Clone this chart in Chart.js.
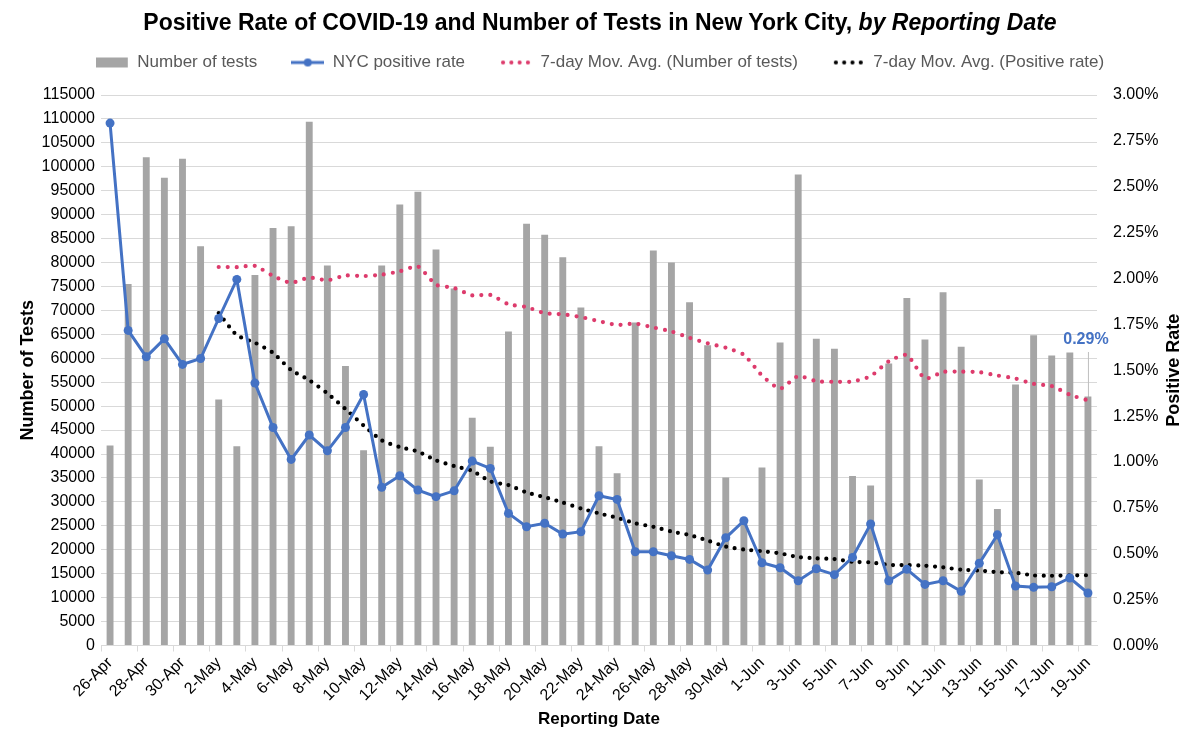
<!DOCTYPE html>
<html>
<head>
<meta charset="utf-8">
<script src="https://cdn.jsdelivr.net/npm/chart.js@4.4.1/dist/chart.umd.min.js"></script>
<style>
  html, body { margin: 0; padding: 0; background: #fff; }
  #wrap { position: relative; width: 1200px; height: 752px; }
  #c { position: absolute; left: 0; top: 0; }
  #title { position: absolute; left: 0; top: 8px; width: 1200px; text-align: center;
           font: bold 23px "Liberation Sans Narrow", "Liberation Sans", sans-serif; color: #000; line-height: 28px; }
</style>
</head>
<body>
<div id="wrap">
  <canvas id="c" width="1200" height="752"></canvas>
  <div id="title">Positive Rate of COVID-19 and Number of Tests in New York City, <i>by Reporting Date</i></div>
</div>
<script>
// ---- Data ----
const dates = [
  '26-Apr','27-Apr','28-Apr','29-Apr','30-Apr',
  '1-May','2-May','3-May','4-May','5-May','6-May','7-May','8-May','9-May','10-May',
  '11-May','12-May','13-May','14-May','15-May','16-May','17-May','18-May','19-May','20-May',
  '21-May','22-May','23-May','24-May','25-May','26-May','27-May','28-May','29-May','30-May','31-May',
  '1-Jun','2-Jun','3-Jun','4-Jun','5-Jun','6-Jun','7-Jun','8-Jun','9-Jun','10-Jun',
  '11-Jun','12-Jun','13-Jun','14-Jun','15-Jun','16-Jun','17-Jun','18-Jun','19-Jun'
];

const numberOfTests = [
  41800, 75500, 102000, 97700, 101700,
  83400, 51400, 41600, 77400, 87200, 87600, 109400, 79400, 58400, 40800,
  79400, 92100, 94800, 82700, 74600, 47600, 41500, 65600, 88100, 85800,
  81100, 70600, 41600, 36000, 67500, 82500, 80000, 71700, 62700, 35100, 25600,
  37200, 63300, 98400, 64100, 62000, 35400, 33400, 58900, 72600, 63900,
  73800, 62400, 34700, 28500, 54500, 64800, 60600, 61200, 52000
];

// percent values
const positiveRate = [
  2.847, 1.717, 1.573, 1.671, 1.532,
  1.564, 1.782, 1.995, 1.430, 1.188, 1.014, 1.147, 1.061, 1.188, 1.368,
  0.862, 0.925, 0.847, 0.811, 0.843, 1.005, 0.965, 0.720, 0.647, 0.666,
  0.607, 0.620, 0.816, 0.796, 0.511, 0.511, 0.489, 0.469, 0.411, 0.587, 0.680,
  0.451, 0.424, 0.353, 0.418, 0.386, 0.480, 0.662, 0.353, 0.415, 0.333,
  0.353, 0.295, 0.448, 0.603, 0.324, 0.317, 0.320, 0.368, 0.286
];

const testsMovAvg = [
  null, null, null, null, null, null,
  79070, 79040, 79310, 77200, 75760, 76860, 76290, 77290, 77170,
  77460, 78160, 79190, 75370, 74690, 73140, 73240, 71270, 70700, 69410,
  69190, 68610, 67760, 66970, 67240, 66440, 65610, 64270, 63140, 62210, 60730,
  56400, 53660, 56290, 55200, 55100, 55140, 56260, 59360, 60690, 55760,
  57140, 57200, 57100, 56400, 55770, 54660, 54190, 52390, 51200
];

const rateMovAvg = [
  null, null, null, null, null, null,
  1.812, 1.691, 1.650, 1.595, 1.501, 1.446, 1.374, 1.289, 1.199,
  1.118, 1.081, 1.057, 1.009, 0.978, 0.952, 0.894, 0.874, 0.834, 0.808,
  0.779, 0.747, 0.720, 0.696, 0.666, 0.647, 0.621, 0.602, 0.572, 0.539, 0.523,
  0.514, 0.502, 0.482, 0.475, 0.471, 0.456, 0.453, 0.439, 0.438, 0.435,
  0.426, 0.413, 0.408, 0.400, 0.396, 0.382, 0.380, 0.382, 0.383
];

const leftTicks = { min: 0, max: 115000, step: 5000 };
const rightTicks = { min: 0, max: 3, step: 0.25 };

// ---- Styling ----
const FONT = '"Liberation Sans", Arial, sans-serif';
const GRAY_BAR = '#a5a5a5';
const BLUE = '#4472c4';
const PINK = '#dd3b6c';
const BLACK = '#000000';

function makeIcon(kind) {
  const c = document.createElement('canvas');
  c.width = 33; c.height = 12;
  const g = c.getContext('2d');
  if (kind === 'bar') {
    g.fillStyle = GRAY_BAR; g.fillRect(0, 1, 32, 10);
  } else if (kind === 'line') {
    g.strokeStyle = BLUE; g.lineWidth = 3;
    g.beginPath(); g.moveTo(0, 6); g.lineTo(33, 6); g.stroke();
    g.fillStyle = BLUE; g.beginPath(); g.arc(16.5, 6, 4, 0, Math.PI * 2); g.fill();
  } else {
    g.fillStyle = kind === 'pink' ? PINK : BLACK;
    for (let k = 0; k < 4; k++) { g.beginPath(); g.arc(4 + k * 8.3, 6, 2.1, 0, Math.PI * 2); g.fill(); }
  }
  return c;
}
const icons = [makeIcon('bar'), makeIcon('line'), makeIcon('pink'), makeIcon('black')];

const LEGEND_HEIGHT = 75;
const legendFix = {
  id: 'legendFix',
  beforeLayout(chart) {
    const lg = chart.legend;
    if (lg && !lg._fixed) {
      const f = lg.fit;
      lg.fit = function () { f.call(this); this.height = LEGEND_HEIGHT; };
      lg._fixed = true;
    }
  }
};

const extras = {
  id: 'extras',
  beforeDatasetsDraw(chart) {
    const { ctx } = chart;
    const last = positiveRate.length - 1;
    const x = chart.scales.x.getPixelForValue(last);
    const yp = chart.scales.y1.getPixelForValue(positiveRate[last]);
    ctx.save();
    ctx.strokeStyle = '#bfbfbf'; ctx.lineWidth = 1;
    ctx.beginPath(); ctx.moveTo(x + 0.5, 352); ctx.lineTo(x + 0.5, yp); ctx.stroke();
    ctx.restore();
  },
  afterDraw(chart) {
    const { ctx, chartArea } = chart;
    const last = positiveRate.length - 1;
    const x = chart.scales.x.getPixelForValue(last);
    ctx.save();
    ctx.font = 'bold 16px ' + FONT;
    ctx.fillStyle = BLUE; ctx.textAlign = 'center'; ctx.textBaseline = 'middle';
    ctx.fillText(positiveRate[last].toFixed(2) + '%', x - 2, 340);
    // right axis title (reads bottom-to-top)
    ctx.translate(1174, (chartArea.top + chartArea.bottom) / 2);
    ctx.rotate(-Math.PI / 2);
    ctx.font = 'bold 18px ' + FONT;
    ctx.fillStyle = '#000';
    ctx.fillText('Positive Rate', 0, 0);
    ctx.restore();
  }
};

new Chart(document.getElementById('c'), {
  data: {
    labels: dates,
    datasets: [
      {
        type: 'bar', label: 'Number of tests', data: numberOfTests, yAxisID: 'y',
        backgroundColor: GRAY_BAR, barPercentage: 0.38, categoryPercentage: 1.0, order: 4
      },
      {
        type: 'line', label: 'NYC positive rate', data: positiveRate, yAxisID: 'y1',
        borderColor: BLUE, backgroundColor: BLUE, borderWidth: 3, tension: 0,
        pointRadius: 4.5, pointBackgroundColor: BLUE, pointBorderWidth: 0, order: 1
      },
      {
        type: 'line', label: '7-day Mov. Avg. (Number of tests)', data: testsMovAvg, yAxisID: 'y',
        borderColor: PINK, borderWidth: 4.2, borderDash: [0, 9], borderCapStyle: 'round',
        pointRadius: 0, tension: 0.2, order: 3
      },
      {
        type: 'line', label: '7-day Mov. Avg. (Positive rate)', data: rateMovAvg, yAxisID: 'y1',
        borderColor: BLACK, borderWidth: 4.2, borderDash: [0, 8.4], borderCapStyle: 'round',
        pointRadius: 0, tension: 0.2, order: 2
      }
    ]
  },
  options: {
    responsive: false,
    animation: false,
    layout: { padding: { top: 20, left: 0, right: 0, bottom: 0 } },
    plugins: {
      title: { display: false },
      tooltip: { enabled: false },
      legend: {
        display: true, position: 'top', align: 'center',
        labels: {
          usePointStyle: true, pointStyleWidth: 33, padding: 34,
          font: { family: FONT, size: 17 }, color: '#595959',
          generateLabels: (chart) => chart.data.datasets.map((ds, i) => ({
            text: ds.label, pointStyle: icons[i], fillStyle: 'rgba(0,0,0,0)',
            strokeStyle: 'rgba(0,0,0,0)', lineWidth: 0, hidden: false,
            datasetIndex: i, fontColor: '#595959'
          }))
        }
      }
    },
    scales: {
      x: {
        type: 'category', offset: true,
        grid: {
          display: true, drawOnChartArea: false, drawTicks: true, tickLength: 6, offset: true,
          color: (c) => (c.index % 2 === 0 ? '#d9d9d9' : 'rgba(0,0,0,0)')
        },
        border: { display: true, color: '#d9d9d9' },
        ticks: {
          autoSkip: false, maxRotation: 45, minRotation: 45, padding: 2,
          font: { family: FONT, size: 16 }, color: '#000',
          callback: function (v, i) { return i % 2 === 0 ? this.getLabelForValue(v) : ''; }
        },
        title: {
          display: true, text: 'Reporting Date', color: '#000',
          font: { family: FONT, size: 17, weight: 'bold' }, padding: { top: 4, bottom: 22 }
        },
        afterFit: (s) => { s.height = 106.5; }
      },
      y: {
        position: 'left', min: leftTicks.min, max: leftTicks.max,
        ticks: {
          stepSize: leftTicks.step, font: { family: FONT, size: 16 }, color: '#000', padding: 6,
          callback: (v) => String(v)
        },
        grid: { color: '#d9d9d9', drawTicks: false, lineWidth: 1 },
        border: { display: false },
        title: {
          display: true, text: 'Number of Tests', color: '#000',
          font: { family: FONT, size: 18, weight: 'bold' }, padding: { top: 17, bottom: 0 }
        },
        afterFit: (s) => { s.width = 101; }
      },
      y1: {
        position: 'right', min: rightTicks.min, max: rightTicks.max,
        ticks: {
          stepSize: rightTicks.step, font: { family: FONT, size: 16 }, color: '#000', padding: 16,
          callback: (v) => v.toFixed(2) + '%'
        },
        grid: { display: false, drawTicks: false },
        border: { display: false },
        afterFit: (s) => { s.width = 103; }
      }
    }
  },
  plugins: [legendFix, extras]
});
</script>
</body>
</html>
